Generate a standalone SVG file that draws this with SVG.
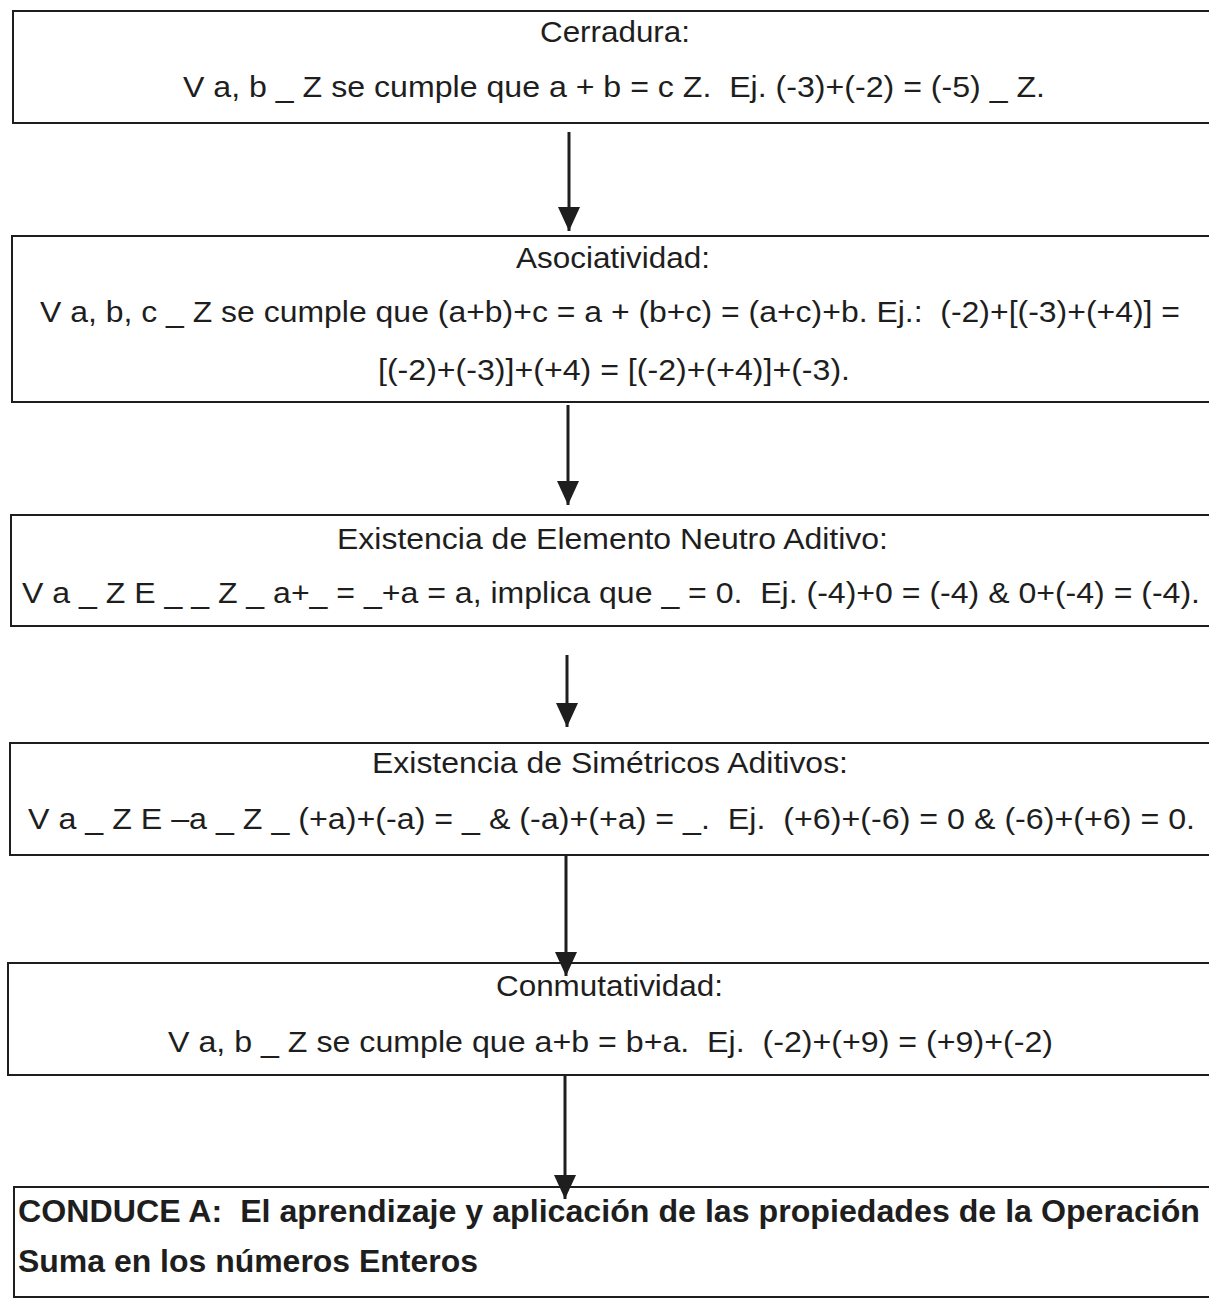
<svg xmlns="http://www.w3.org/2000/svg" width="1209" height="1299" viewBox="0 0 1209 1299">
<style>
.box{fill:#fff;stroke:#1e1e1e;stroke-width:2}
.t{font-family:"Liberation Sans",Arial,sans-serif;font-size:30px;fill:#1e1e1e;white-space:pre}
.b{font-family:"Liberation Sans",Arial,sans-serif;font-size:31px;font-weight:bold;fill:#1e1e1e;white-space:pre}
.c{stroke:#1e1e1e;stroke-width:3;fill:none}
</style>
<defs>
<marker id="ah" markerUnits="userSpaceOnUse" markerWidth="24" markerHeight="22" viewBox="0 -11 24 22" refX="24" refY="0" orient="auto">
<path d="M0,-11 L24,0 L0,11 z" fill="#1e1e1e"/>
</marker>
</defs>
<rect width="1209" height="1299" fill="#fff"/>
<g id="n1">
<rect class="box" x="13" y="11" width="1210" height="112"/>
<text class="t" x="540" y="42" textLength="150" lengthAdjust="spacingAndGlyphs">Cerradura:</text>
<text class="t" x="183" y="97" textLength="862" lengthAdjust="spacingAndGlyphs">V a, b _ Z se cumple que a + b = c Z.  Ej. (-3)+(-2) = (-5) _ Z.</text>
</g>
<g id="n2">
<rect class="box" x="12" y="236" width="1210" height="166"/>
<text class="t" x="516" y="268" textLength="194" lengthAdjust="spacingAndGlyphs">Asociatividad:</text>
<text class="t" x="40" y="322" textLength="1140" lengthAdjust="spacingAndGlyphs">V a, b, c _ Z se cumple que (a+b)+c = a + (b+c) = (a+c)+b. Ej.:  (-2)+[(-3)+(+4)] =</text>
<text class="t" x="378" y="380" textLength="472" lengthAdjust="spacingAndGlyphs">[(-2)+(-3)]+(+4) = [(-2)+(+4)]+(-3).</text>
</g>
<g id="n3">
<rect class="box" x="11" y="515" width="1210" height="111"/>
<text class="t" x="337" y="549" textLength="551" lengthAdjust="spacingAndGlyphs">Existencia de Elemento Neutro Aditivo:</text>
<text class="t" x="22" y="603" textLength="1178" lengthAdjust="spacingAndGlyphs">V a _ Z E _ _ Z _ a+_ = _+a = a, implica que _ = 0.  Ej. (-4)+0 = (-4) &amp; 0+(-4) = (-4).</text>
</g>
<g id="n4">
<rect class="box" x="10" y="743" width="1210" height="112"/>
<text class="t" x="372" y="773" textLength="476" lengthAdjust="spacingAndGlyphs">Existencia de Simétricos Aditivos:</text>
<text class="t" x="28" y="829" textLength="1167" lengthAdjust="spacingAndGlyphs">V a _ Z E –a _ Z _ (+a)+(-a) = _ &amp; (-a)+(+a) = _.  Ej.  (+6)+(-6) = 0 &amp; (-6)+(+6) = 0.</text>
</g>
<g id="n5">
<rect class="box" x="8" y="963" width="1210" height="112"/>
<text class="t" x="496" y="996" textLength="227" lengthAdjust="spacingAndGlyphs">Conmutatividad:</text>
<text class="t" x="168" y="1052" textLength="885" lengthAdjust="spacingAndGlyphs">V a, b _ Z se cumple que a+b = b+a.  Ej.  (-2)+(+9) = (+9)+(-2)</text>
</g>
<g id="n6">
<rect class="box" x="14" y="1187" width="1210" height="110"/>
<text class="b" x="18" y="1222" textLength="1182" lengthAdjust="spacingAndGlyphs">CONDUCE A:  El aprendizaje y aplicación de las propiedades de la Operación</text>
<text class="b" x="18" y="1272" textLength="460" lengthAdjust="spacingAndGlyphs">Suma en los números Enteros</text>
</g>
<g id="connectors">
<line class="c" x1="569" y1="132" x2="569" y2="231" marker-end="url(#ah)"/>
<line class="c" x1="568" y1="405" x2="568" y2="505" marker-end="url(#ah)"/>
<line class="c" x1="567" y1="655" x2="567" y2="727" marker-end="url(#ah)"/>
<line class="c" x1="566" y1="855" x2="566" y2="976" marker-end="url(#ah)"/>
<line class="c" x1="565" y1="1075" x2="565" y2="1199" marker-end="url(#ah)"/>
</g>
</svg>
